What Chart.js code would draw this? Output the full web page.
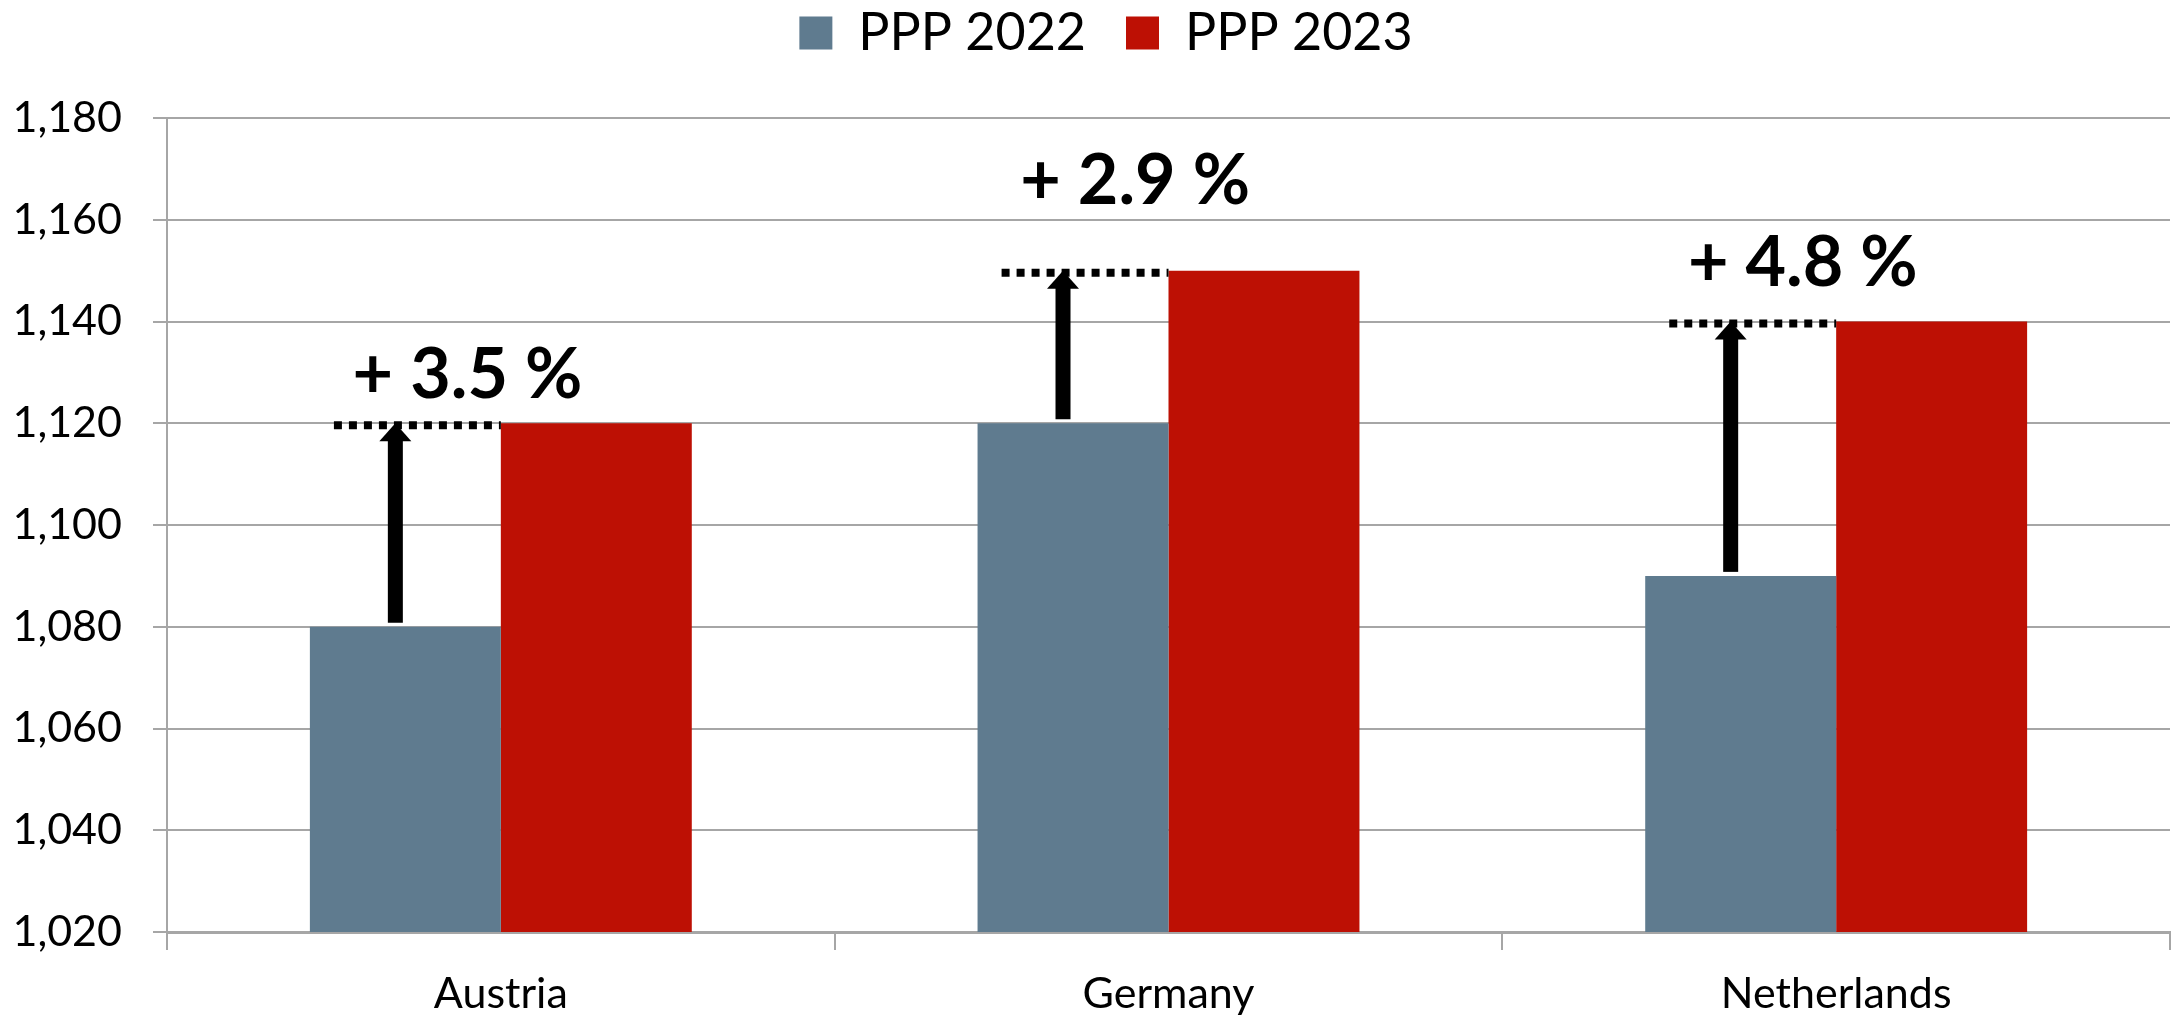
<!DOCTYPE html>
<html>
<head>
<meta charset="utf-8">
<script src="https://cdn.jsdelivr.net/npm/chart.js@4.4.1/dist/chart.umd.min.js"></script>
<style>
    html, body { margin: 0; padding: 0; background: #ffffff; }
    #wrap { width: 2177px; height: 1016px; }
</style>
</head>
<body>
<div id="wrap"><canvas id="pppChart" width="2177" height="1016"></canvas></div>
<script>
// Values
const countries = ['Austria', 'Germany', 'Netherlands'];
const ppp2022 = [1080, 1120, 1090];
const ppp2023 = [1120, 1150, 1140];
const changeLabels = ['+ 3.5 %', '+ 2.9 %', '+ 4.8 %'];
const changeLabelLevels = [1125, 1163, 1147]; // y value where each label's baseline sits
const yTicks = [1020, 1040, 1060, 1080, 1100, 1120, 1140, 1160, 1180];

const gridGrey = '#a6a6a6';

// Legend gets a fixed height so the plot starts where the reference one does,
// and is nudged a little right like in the original
const legendTweak = {
    id: 'legendTweak',
    beforeLayout(chart) {
        const legend = chart.legend;
        if (!legend || legend._tweaked) return;
        const origFit = legend.fit;
        legend.fit = function() {
            origFit.call(this);
            this.height = 154;
        };
        const origDraw = legend.draw;
        legend.draw = function() {
            this.ctx.save();
            this.ctx.translate(21, 3);
            origDraw.call(this);
            this.ctx.restore();
        };
        legend._tweaked = true;
    }
};

// Dotted level line, up arrow and percentage label per country
const changeArrows = {
    id: 'changeArrows',
    afterDatasetsDraw(chart) {
        const { ctx, scales: { x, y } } = chart;
        const cw = x.getPixelForValue(1) - x.getPixelForValue(0);
        ctx.save();
        countries.forEach((c, i) => {
            const cx = x.getPixelForValue(i);
            const yFrom = y.getPixelForValue(ppp2022[i]);
            const yTo = y.getPixelForValue(ppp2023[i]);
            const ax = cx - cw * 0.158;

            ctx.strokeStyle = '#000';
            ctx.lineWidth = 8;
            ctx.lineCap = 'butt';
            ctx.setLineDash([8, 7]);
            ctx.beginPath();
            ctx.moveTo(cx - cw * 0.25, yTo + 2);
            ctx.lineTo(cx - cw * 0.0, yTo + 2);
            ctx.stroke();
            ctx.setLineDash([]);

            const headH = 18, headW = 32, shaftW = 15;
            ctx.fillStyle = '#000';
            ctx.fillRect(ax - shaftW / 2, yTo + headH - 1, shaftW, (yFrom - 4) - (yTo + headH - 1));
            ctx.beginPath();
            ctx.moveTo(ax, yTo);
            ctx.lineTo(ax + headW / 2, yTo + headH);
            ctx.lineTo(ax - headW / 2, yTo + headH);
            ctx.closePath();
            ctx.fill();

            ctx.font = 'bold 70px Lato';
            ctx.textAlign = 'center';
            ctx.textBaseline = 'alphabetic';
            ctx.fillText(changeLabels[i], cx - cw * 0.05, y.getPixelForValue(changeLabelLevels[i]));
        });
        ctx.restore();
    }
};

document.addEventListener('DOMContentLoaded', function() {
    const canvas = document.getElementById('pppChart');

    new Chart(canvas, {
        type: 'bar',
        data: {
            labels: countries,
            datasets: [
                {
                    label: 'PPP 2022',
                    data: ppp2022,
                    backgroundColor: '#5f7b8f',
                    borderWidth: 0
                },
                {
                    label: 'PPP 2023',
                    data: ppp2023,
                    backgroundColor: '#bd1004',
                    borderWidth: 0
                }
            ]
        },
        plugins: [legendTweak, changeArrows],
        options: {
            responsive: false,
            animation: false,
            layout: {
                padding: { top: -36, right: 7, bottom: 0, left: 0 }
            },
            datasets: {
                bar: {
                    categoryPercentage: 0.572,
                    barPercentage: 1.0
                }
            },
            plugins: {
                legend: {
                    position: 'top',
                    labels: {
                        color: '#000',
                        boxWidth: 33,
                        boxHeight: 33,
                        padding: 40,
                        font: { family: 'Lato', size: 52 }
                    }
                },
                tooltip: { enabled: false }
            },
            scales: {
                x: {
                    afterFit(scale) { scale.height = 84; },
                    grid: {
                        offset: true,
                        drawOnChartArea: false,
                        color: gridGrey,
                        lineWidth: 2,
                        tickLength: 18
                    },
                    border: { color: gridGrey, width: 3 },
                    ticks: {
                        color: '#000',
                        padding: 18,
                        font: { family: 'Lato', size: 43 }
                    }
                },
                y: {
                    min: yTicks[0],
                    max: yTicks[yTicks.length - 1],
                    afterFit(scale) { scale.width = 167; },
                    afterBuildTicks(scale) {
                        scale.ticks = yTicks.map(v => ({ value: v }));
                    },
                    grid: {
                        color: gridGrey,
                        lineWidth: 2,
                        tickLength: 14
                    },
                    border: { color: gridGrey, width: 2 },
                    ticks: {
                        color: '#000',
                        padding: 31,
                        font: { family: 'Lato', size: 43 }
                    }
                }
            }
        }
    });
});
</script>
</body>
</html>
